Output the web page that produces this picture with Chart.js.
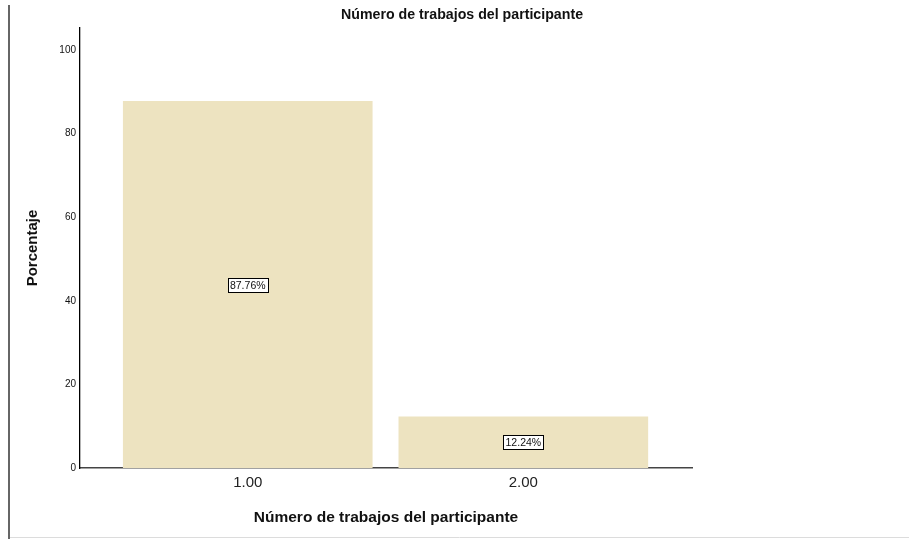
<!DOCTYPE html>
<html>
<head>
<meta charset="utf-8">
<script src="https://cdn.jsdelivr.net/npm/chart.js@4"></script>
<style>
  html, body { margin: 0; padding: 0; background: #fff; }
  #wrap { width: 909px; height: 539px; }
</style>
</head>
<body>
<div id="wrap"><canvas id="c" width="909" height="539"></canvas></div>
<script>
const categories = ['1.00', '2.00'];
const categoryValues = [1, 2];
const percentages = [87.76, 12.24];
const yTicks = [0, 20, 40, 60, 80, 100];
const chartTitle = 'Número de trabajos del participante';
const xTitle = 'Número de trabajos del participante';
const yTitle = 'Porcentaje';

const SANS = '"Liberation Sans", Arial, sans-serif';

const framePlugin = {
  id: 'frame',
  beforeDraw(chart) {
    const ctx = chart.ctx;
    ctx.save();
    ctx.strokeStyle = '#666';
    ctx.lineWidth = 2;
    ctx.beginPath();
    ctx.moveTo(9, 5);
    ctx.lineTo(9, 539);
    ctx.stroke();
    ctx.strokeStyle = '#dcdcdc';
    ctx.lineWidth = 1;
    ctx.beginPath();
    ctx.moveTo(10, 537.5);
    ctx.lineTo(909, 537.5);
    ctx.stroke();
    ctx.restore();
  }
};

const labelPlugin = {
  id: 'boxLabels',
  afterDatasetsDraw(chart) {
    const ctx = chart.ctx;
    const meta = chart.getDatasetMeta(0);
    ctx.save();
    ctx.font = '10.5px "Liberation Sans Narrow", ' + SANS;
    ctx.textAlign = 'center';
    ctx.textBaseline = 'middle';
    meta.data.forEach((bar, i) => {
      const txt = percentages[i].toFixed(2) + '%';
      const cx = bar.x;
      const cy = (bar.y + bar.base) / 2;
      const w = 40, h = 14;
      ctx.fillStyle = '#fff';
      ctx.fillRect(Math.round(cx - w / 2) + 0.5, Math.round(cy - h / 2) + 0.5, w, h);
      ctx.strokeStyle = '#000';
      ctx.lineWidth = 1;
      ctx.strokeRect(Math.round(cx - w / 2) + 0.5, Math.round(cy - h / 2) + 0.5, w, h);
      ctx.fillStyle = '#111';
      ctx.fillText(txt, cx, cy + 1);
    });
    ctx.restore();
  }
};

new Chart(document.getElementById('c'), {
  type: 'bar',
  data: {
    datasets: [{
      data: categoryValues.map((x, i) => ({ x: x, y: percentages[i] })),
      backgroundColor: '#ede3c0',
      borderWidth: 0,
      barThickness: 249
    }]
  },
  options: {
    responsive: false,
    devicePixelRatio: 1,
    animation: false,
    layout: { padding: { left: 15, right: 0, top: 0, bottom: 0 } },
    plugins: {
      legend: { display: false },
      tooltip: { enabled: false },
      title: {
        display: true,
        text: chartTitle,
        color: '#111',
        font: { family: SANS, size: 14.2, weight: 'bold' },
        padding: { top: 6.5, bottom: 4.5 }
      }
    },
    scales: {
      x: {
        type: 'linear',
        min: 0.3913,
        max: 2.612,
        offset: false,
        afterBuildTicks(scale) {
          scale.ticks = categoryValues.map(v => ({ value: v }));
        },
        afterFit(scale) { scale.height = 71; },
        ticks: {
          color: '#222',
          font: { family: SANS, size: 15 },
          padding: 6,
          autoSkip: false,
          maxRotation: 0,
          callback: (v) => {
            const i = categoryValues.indexOf(v);
            return i >= 0 ? categories[i] : '';
          }
        },
        grid: { display: false, drawTicks: false },
        border: { display: true, color: '#444', width: 1.5 },
        title: {
          display: true,
          text: xTitle,
          color: '#111',
          font: { family: SANS, size: 15.5, weight: 'bold' },
          padding: { top: 0, bottom: 12 }
        }
      },
      y: {
        position: 'left',
        min: 0,
        max: 105.3,
        afterBuildTicks(scale) {
          scale.ticks = yTicks.map(v => ({ value: v }));
        },
        afterFit(scale) { scale.width = 65; },
        ticks: {
          color: '#111',
          font: { family: SANS, size: 10 },
          padding: 4,
          callback: (v) => String(v)
        },
        grid: { display: false, drawTicks: false },
        border: { display: true, color: '#000', width: 1.3 },
        title: {
          display: true,
          text: yTitle,
          color: '#111',
          font: { family: SANS, size: 15, weight: 'bold' },
          padding: { top: 9, bottom: 0 }
        }
      },
      yRight: {
        position: 'right',
        display: true,
        afterFit(scale) { scale.width = 217; },
        ticks: { display: false },
        grid: { display: false, drawTicks: false },
        border: { display: false }
      }
    }
  },
  plugins: [framePlugin, labelPlugin]
});
</script>
</body>
</html>
